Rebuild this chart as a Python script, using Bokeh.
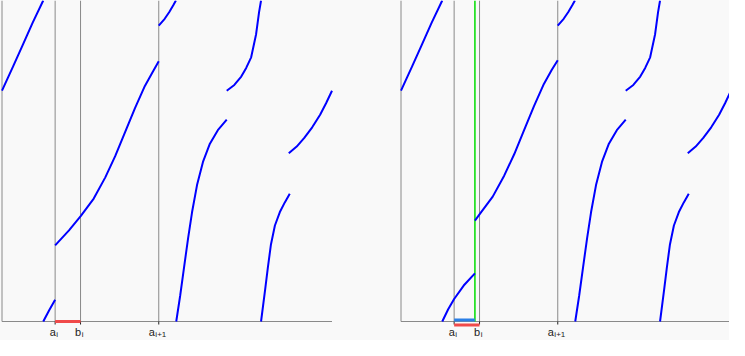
from bokeh.plotting import figure
from bokeh.layouts import row
from bokeh.models import Range1d, ColumnDataSource
from bokeh.core.properties import value
from bokeh.embed import file_html
from bokeh.resources import INLINE

# ---------------- data (unit square: x and y in [0, 1]) ----------------
tick_pos = [0.161, 0.238, 0.475]          # a_i, b_i, a_{i+1}
tick_main = ["a", "b", "a"]
tick_sub = ["i", "i", "i+1"]
cut_right = 0.224                         # green line in right panel

# branches of the wrapped curve shared by both panels
seg1_x = [0.000, 0.033, 0.063, 0.093, 0.125]
seg1_y = [0.719, 0.793, 0.862, 0.931, 1.000]
seg4_x = [0.475, 0.493, 0.507, 0.519, 0.527]
seg4_y = [0.922, 0.943, 0.964, 0.985, 1.000]
seg5_x = [0.528, 0.540, 0.552, 0.564, 0.576, 0.591, 0.609, 0.630, 0.654, 0.681]
seg5_y = [0.000, 0.081, 0.171, 0.260, 0.341, 0.425, 0.497, 0.554, 0.596, 0.629]
seg6_x = [0.681, 0.704, 0.725, 0.740, 0.755, 0.770, 0.779, 0.785]
seg6_y = [0.719, 0.737, 0.763, 0.790, 0.823, 0.895, 0.964, 1.000]
seg7_x = [0.785, 0.797, 0.806, 0.815, 0.827, 0.842, 0.857, 0.872]
seg7_y = [0.000, 0.096, 0.171, 0.240, 0.299, 0.341, 0.371, 0.398]
seg8_x = [0.869, 0.893, 0.916, 0.940, 0.964, 0.982, 1.000]
seg8_y = [0.524, 0.545, 0.572, 0.605, 0.644, 0.680, 0.719]

# left panel: jump at a_i
left2_x = [0.125, 0.143, 0.161]
left2_y = [0.000, 0.035, 0.068]
left3_x = [0.161, 0.203, 0.239, 0.278, 0.313, 0.343, 0.373, 0.403, 0.433, 0.457, 0.475]
left3_y = [0.237, 0.284, 0.329, 0.383, 0.449, 0.515, 0.590, 0.665, 0.734, 0.778, 0.811]

# right panel: jump moved to the green line
right2_x = [0.125, 0.143, 0.161, 0.190, 0.224]
right2_y = [0.000, 0.038, 0.070, 0.112, 0.150]
right3_x = [0.224, 0.239, 0.278, 0.313, 0.343, 0.373, 0.403, 0.433, 0.457, 0.475]
right3_y = [0.314, 0.335, 0.389, 0.455, 0.521, 0.596, 0.671, 0.740, 0.784, 0.814]

# ---------------- layout / style ----------------
BG = "#f9f9f9"
GRAY = "#8a8a8a"
U = 330.0   # px per x unit
V = 321.0   # px per y unit
H = 340
W1 = 399
W2 = 330
XS = -1.5 / U
FONT = "Liberation Sans"


def make_fig(width):
    p = figure(width=width, height=H,
               x_range=Range1d(XS, XS + width / U),
               y_range=Range1d(1 - H / V, 1.0),
               output_backend="svg", toolbar_location=None,
               x_axis_type=None, y_axis_type=None, title=None,
               min_border=0, background_fill_color=BG,
               border_fill_color=BG, outline_line_color=None)
    # axes
    p.segment(x0=[0, 0], y0=[0, 0], x1=[0, 1], y1=[1, 0],
              line_color=GRAY, line_width=1)
    # vertical guide lines
    p.segment(x0=tick_pos, y0=[0] * 3, x1=tick_pos, y1=[1] * 3,
              line_color=GRAY, line_width=1)
    # tick marks
    p.segment(x0=tick_pos, y0=[0] * 3, x1=tick_pos, y1=[-3 / V] * 3,
              line_color="#222222", line_width=1)
    # tick labels: letter + subscript
    main_w = 6.1
    sub_w = [1.8 * s.count("i") + 4.7 * s.count("+") + 4.4 * s.count("1")
             for s in tick_sub]
    main_off = [(main_w - w) / 2 - 1.5 for w in sub_w]
    sub_off = [o + 0.5 for o in main_off]
    src = ColumnDataSource(dict(x=tick_pos, m=tick_main, s=tick_sub,
                                mo=main_off, so=sub_off,
                                ym=[-10.0 / V] * 3, ys=[-12.5 / V] * 3))
    p.text(x="x", y="ym", text="m", x_offset="mo", source=src,
           text_font=value(FONT), text_font_size=value("11px"),
           text_color="#222222", text_align="right",
           text_baseline="alphabetic")
    p.text(x="x", y="ys", text="s", x_offset="so", source=src,
           text_font=value(FONT), text_font_size=value("8px"),
           text_color="#222222", text_align="left",
           text_baseline="alphabetic")
    return p


shared_xs = [seg1_x, seg4_x, seg5_x, seg6_x, seg7_x, seg8_x]
shared_ys = [seg1_y, seg4_y, seg5_y, seg6_y, seg7_y, seg8_y]

# left panel
p1 = make_fig(W1)
p1.multi_line(xs=shared_xs + [left2_x, left3_x],
              ys=shared_ys + [left2_y, left3_y],
              line_color="#0000ff", line_width=2)
p1.segment(x0=[tick_pos[0]], y0=[0], x1=[tick_pos[1]], y1=[0],
           line_color="#f04a4a", line_width=3)

# right panel
p2 = make_fig(W2)
p2.segment(x0=[cut_right], y0=[0], x1=[cut_right], y1=[1],
           line_color="#00dd00", line_width=1.5)
p2.multi_line(xs=shared_xs + [right2_x, right3_x],
              ys=shared_ys + [right2_y, right3_y],
              line_color="#0000ff", line_width=2)
p2.segment(x0=[tick_pos[0]], y0=[1.5 / V], x1=[cut_right], y1=[1.5 / V],
           line_color="#2a7fe6", line_width=3)
p2.segment(x0=[tick_pos[0]], y0=[-3.5 / V], x1=[tick_pos[1]], y1=[-3.5 / V],
           line_color="#f04a4a", line_width=3)

layout = row(p1, p2)
layout.styles = {"background-color": BG}
open("out.html", "w").write(file_html(layout, INLINE))
